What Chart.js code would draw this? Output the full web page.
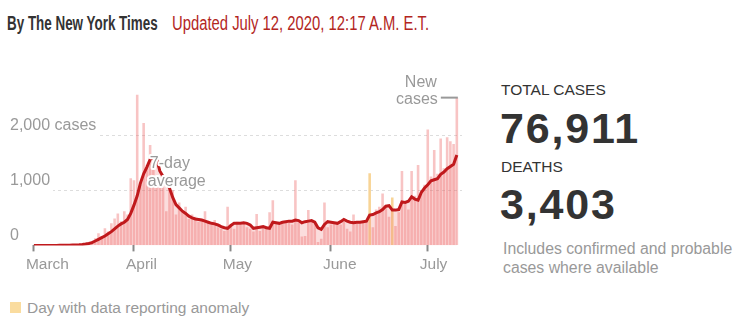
<!DOCTYPE html>
<html>
<head>
<meta charset="utf-8">
<script src="https://cdn.jsdelivr.net/npm/chart.js@4.4.0/dist/chart.umd.min.js"></script>
<style>
body { margin: 0; width: 740px; height: 329px; background: #fff; position: relative; overflow: hidden; font-family: "Liberation Sans", Arial, sans-serif; }
.abs { position: absolute; white-space: nowrap; line-height: 1; }
#byline { left: 7px; top: 12px; font: bold 19.5px "Liberation Sans", Arial, sans-serif; color: #333; transform: scaleX(0.688); transform-origin: left top; }
#updated { left: 172px; top: 12px; font: 19.5px "Liberation Sans", Arial, sans-serif; color: #b3261e; transform: scaleX(0.76); transform-origin: left top; }
.label { font-size: 15.5px; color: #333; }
.big { font-size: 43px; font-weight: bold; color: #333; letter-spacing: 1.8px; }
.note { font-size: 15.8px; color: #999; }
#chartBox { position: absolute; left: 0; top: 0; width: 470px; height: 285px; }
#legendBox { left: 10px; top: 302px; width: 11px; height: 11px; background: #fadc9f; }
#legendText { left: 27px; top: 299.5px; font-size: 15.5px; color: #999; }
</style>
</head>
<body>
<div class="abs" id="byline">By The New York Times</div>
<div class="abs" id="updated">Updated July 12, 2020, 12:17 A.M. E.T.</div>

<div id="chartBox"><canvas id="casesChart"></canvas></div>

<div class="abs label" style="left:501px;top:81.5px">TOTAL CASES</div>
<div class="abs big" style="left:500px;top:106.5px">76,911</div>
<div class="abs label" style="left:501px;top:158.5px">DEATHS</div>
<div class="abs big" style="left:500px;top:183px">3,403</div>
<div class="abs note" style="left:503px;top:240.5px">Includes confirmed and probable</div>
<div class="abs note" style="left:503px;top:259.5px">cases where available</div>

<div class="abs" id="legendBox"></div>
<div class="abs" id="legendText">Day with data reporting anomaly</div>

<script>
// daily new cases, March 1 onwards (one value per day)
const cases = [
	0, 0, 0, 0, 0, 0, 0, 1, 0, 3, 4, 6, 10, 12, 18,
	25, 40, 55, 80, 130, 220, 160, 310, 250, 400, 490, 580, 440, 620, 560, 1220,
	1180, 2730, 1090, 2220, 1450, 1820, 1400, 1130, 1200, 1050, 620, 1040, 1000, 560, 780,
	620, 700, 480, 560, 520, 430, 480, 620, 440, 380, 460, 330, 300, 260, 700,
	380, 300, 430, 380, 400, 330, 300, 250, 570, 260, 300, 350, 600, 820, 420,
	380, 420, 440, 410, 380, 1180, 420, 160, 170, 640, 420, 400, 60, 120, 780, 330,
	380, 400, 420, 380, 430, 300, 250, 560, 400, 420, 440, 450, 1310, 330, 650,
	700, 940, 700, 520, 870, 350, 600, 1350, 800, 650, 1350, 900, 1460, 1000, 1100,
	2100, 1250, 1730, 1300, 1940, 1400, 1960, 1890, 1840, 2680,
];
// 7-day average
const average = [
	0, 0, 0, 0, 0, 0, 0, 0, 1, 2, 3, 5, 7, 9, 12,
	17, 24, 35, 50, 80, 110, 140, 170, 210, 250, 300, 350, 390, 420, 470, 580,
	730, 900, 1130, 1300, 1420, 1560, 1600, 1580, 1350, 1250, 1130, 1040, 870, 740, 680,
	620, 580, 530, 500, 480, 470, 460, 440, 420, 400, 390, 370, 340, 320, 310,
	360, 400, 400, 400, 410, 400, 370, 310, 320, 330, 340, 320, 310, 420, 410,
	400, 420, 430, 440, 440, 460, 450, 410, 430, 440, 450, 420, 320, 290, 380, 430,
	420, 410, 400, 430, 470, 440, 420, 410, 420, 420, 430, 440, 550, 560, 590,
	610, 650, 710, 720, 640, 640, 650, 790, 780, 800, 880, 840, 820, 960, 1040,
	1100, 1170, 1190, 1210, 1290, 1330, 1390, 1430, 1470, 1640,
];
// days (index from March 1) flagged as reporting anomalies
const anomalyDays = [104, 111];
// month ticks
const monthStarts = [0, 31, 61, 92, 122];
const monthNames = ["March", "April", "May", "June", "July"];
const yTicks = [0, 1000, 2000];
const yTickLabels = ["0", "1,000", "2,000 cases"];

const chartFont = '"Liberation Sans", Arial, sans-serif';
const lastDay = cases.length - 1;

// labels drawn on top of the chart
const annotationPlugin = {
	id: "annotations",
	afterDatasetsDraw(chart) {
		const ctx = chart.ctx;
		const x = chart.scales.x;
		const y = chart.scales.y;
		ctx.save();
		ctx.font = "16px " + chartFont;
		ctx.textBaseline = "middle";
		ctx.lineJoin = "round";
		ctx.strokeStyle = "#fff";
		ctx.lineWidth = 4;
		ctx.fillStyle = "#999";

		// 7-day average label
		ctx.textAlign = "left";
		let ax = x.getPixelForValue(35.3);
		ctx.strokeText("7-day", ax + 2, y.getPixelForValue(1490));
		ctx.fillText("7-day", ax + 2, y.getPixelForValue(1490));
		ctx.strokeText("average", ax, y.getPixelForValue(1160));
		ctx.fillText("average", ax, y.getPixelForValue(1160));

		// new cases label pointing at the last bar
		let bx = x.getPixelForValue(lastDay);
		let by = y.getPixelForValue(cases[lastDay]);
		ctx.textAlign = "right";
		ctx.fillText("New", bx - 20, by - 15);
		ctx.fillText("cases", bx - 19, by + 2);
		ctx.strokeStyle = "#999";
		ctx.lineWidth = 2;
		ctx.beginPath();
		ctx.moveTo(bx - 16, by);
		ctx.lineTo(bx + 1, by);
		ctx.stroke();
		ctx.restore();
	},
};

var casesData = {
	datasets: [
		{
			type: "line",
			label: "7-day average",
			data: average.map((v, i) => ({ x: i, y: v })),
			borderColor: "#c0191c",
			borderWidth: 3,
			backgroundColor: "rgba(236, 100, 100, 0.22)",
			fill: "origin",
			pointRadius: 0,
			tension: 0,
			order: 0,
		},
		{
			type: "bar",
			label: "New cases",
			data: cases.map((v, i) => ({ x: i, y: v })),
			backgroundColor: (c) =>
				anomalyDays.includes(c.dataIndex) ? "#f8d496" : "rgba(236, 100, 100, 0.38)",
			barPercentage: 0.8,
			categoryPercentage: 1,
			order: 1,
		},
	],
};

const casesChartCtx = document.getElementById("casesChart");
var casesChart = new Chart(casesChartCtx, {
	type: "bar",
	data: casesData,
	plugins: [annotationPlugin],
	options: {
		responsive: true,
		maintainAspectRatio: false,
		animation: false,
		layout: { padding: { left: 10, right: 8, top: 85.5, bottom: 7 } },
		plugins: { legend: { display: false }, tooltip: { enabled: false } },
		scales: {
			x: {
				type: "linear",
				min: -7.4,
				max: 132.6,
				offset: false,
				afterBuildTicks: (axis) => {
					axis.ticks = monthStarts.map((v) => ({ value: v }));
				},
				grid: {
					offset: false,
					drawOnChartArea: false,
					drawTicks: true,
					tickLength: 6,
					tickWidth: 2,
					tickColor: "#888",
				},
				border: { display: false },
				ticks: {
					autoSkip: false,
					maxRotation: 0,
					align: "start",
					labelOffset: -8,
					padding: 4,
					color: "#999",
					font: { family: chartFont, size: 15.5 },
					callback: (value) => monthNames[monthStarts.indexOf(value)],
				},
			},
			y: {
				min: 0,
				max: 2900,
				afterBuildTicks: (axis) => {
					axis.ticks = yTicks.map((v) => ({ value: v }));
				},
				grid: {
					drawTicks: false,
					color: (c) => (c.tick && c.tick.value === 0 ? "rgba(0,0,0,0)" : "#ddd"),
				},
				border: { display: false, dash: [3, 3] },
				ticks: {
					mirror: true,
					padding: 0,
					labelOffset: -10,
					color: "#999",
					font: { family: chartFont, size: 16 },
					showLabelBackdrop: true,
					backdropColor: "#fff",
					backdropPadding: { top: 2, bottom: 5, left: 0, right: 3 },
					callback: (value) => yTickLabels[yTicks.indexOf(value)],
				},
			},
		},
	},
});
</script>
</body>
</html>
